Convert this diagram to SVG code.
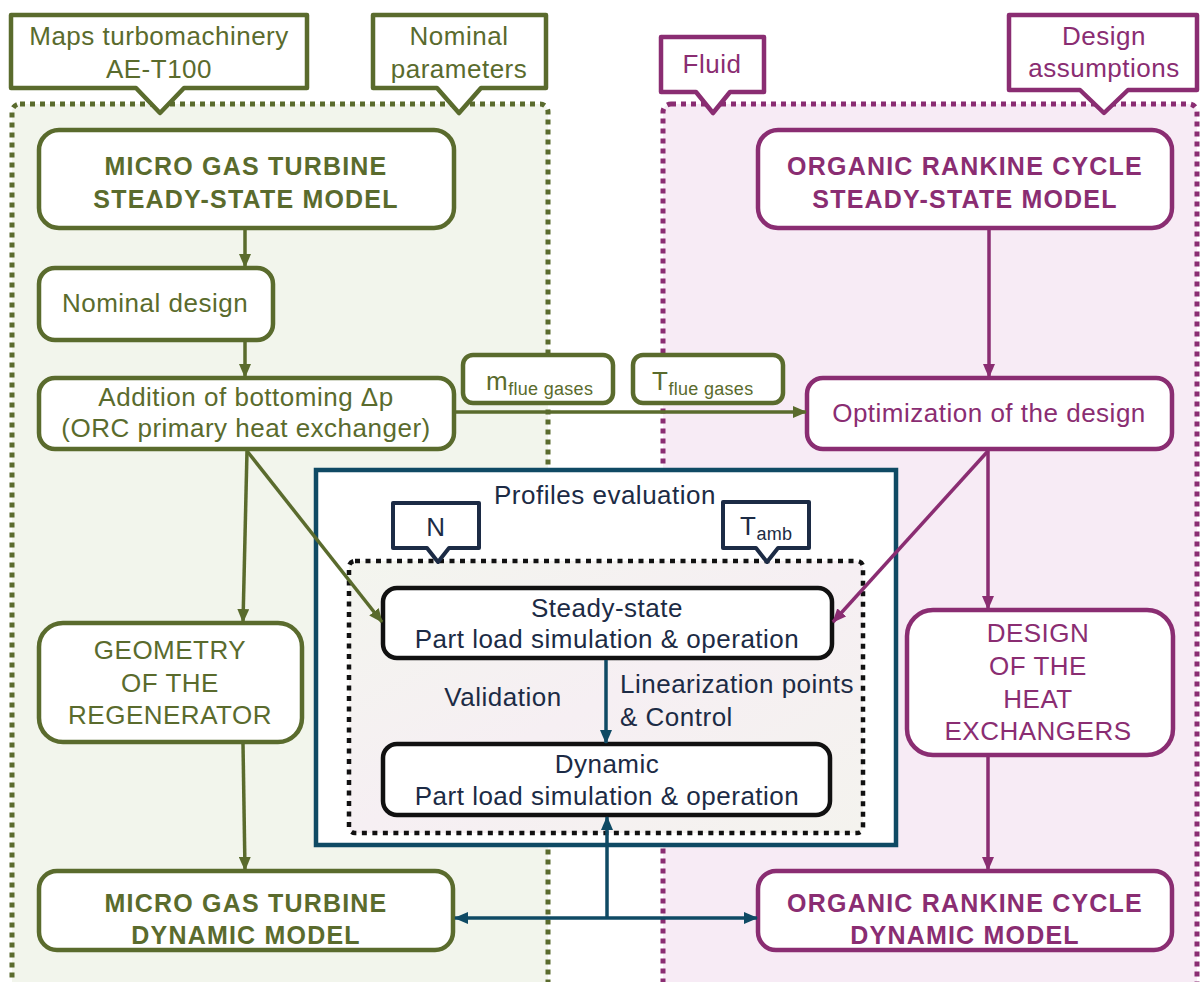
<svg xmlns="http://www.w3.org/2000/svg" width="1202" height="982" viewBox="0 0 1202 982">
  <defs>
    <style>
      text { font-family: "Liberation Sans", Arial, sans-serif; }
      .g { fill: #5a6b2d; }
      .p { fill: #8a2d72; }
      .n { fill: #1c2b45; }
      .c { text-anchor: middle; }
      .r { font-size: 26px; letter-spacing: 0.5px; }
      .b { font-size: 25px; font-weight: bold; letter-spacing: 1.2px; }
      .sub { font-size: 18px; letter-spacing: 0.3px; }
      .boxg { fill: #ffffff; stroke: #5a6b2d; stroke-width: 4.5; }
      .boxp { fill: #ffffff; stroke: #8a2d72; stroke-width: 4.5; }
      .boxk { fill: #ffffff; stroke: #111111; stroke-width: 4.5; }
      .callg { fill: #ffffff; stroke: #5a6b2d; stroke-width: 4.5; stroke-linejoin: round; }
      .callp { fill: #ffffff; stroke: #8a2d72; stroke-width: 4.5; stroke-linejoin: round; }
      .calln { fill: #ffffff; stroke: #1c2b45; stroke-width: 4; stroke-linejoin: round; }
      .lg { stroke: #5a6b2d; stroke-width: 3.5; fill: none; }
      .lp { stroke: #8a2d72; stroke-width: 3.5; fill: none; }
      .lb { stroke: #0f4a64; stroke-width: 3.5; fill: none; }
    </style>
    <linearGradient id="innerFill" x1="0" y1="0" x2="1" y2="1">
      <stop offset="0" stop-color="#f3f5ee"/>
      <stop offset="0.5" stop-color="#f6eff3"/>
      <stop offset="1" stop-color="#f4f3ee"/>
    </linearGradient>
    <marker id="ag" viewBox="0 0 14 12" refX="13" refY="6" markerWidth="14" markerHeight="12" markerUnits="userSpaceOnUse" orient="auto">
      <path d="M0,0 L14,6 L0,12 z" fill="#5a6b2d"/>
    </marker>
    <marker id="ap" viewBox="0 0 14 12" refX="13" refY="6" markerWidth="14" markerHeight="12" markerUnits="userSpaceOnUse" orient="auto">
      <path d="M0,0 L14,6 L0,12 z" fill="#8a2d72"/>
    </marker>
    <marker id="ab" viewBox="0 0 14 12" refX="13" refY="6" markerWidth="14" markerHeight="12" markerUnits="userSpaceOnUse" orient="auto-start-reverse">
      <path d="M0,0 L14,6 L0,12 z" fill="#0f4a64"/>
    </marker>
  </defs>

  <rect width="1202" height="982" fill="#ffffff"/>

  <!-- Micro gas turbine area -->
  <g id="mgt-area">
    <rect x="12" y="104" width="536" height="900" rx="8" fill="#f2f5ec" stroke="#5a6b2d" stroke-width="5" stroke-dasharray="5 5"/>
  </g>
  <!-- Organic Rankine cycle area -->
  <g id="orc-area">
    <rect x="663" y="104" width="534" height="900" rx="8" fill="#f7ebf5" stroke="#8a2d72" stroke-width="5" stroke-dasharray="5 5"/>
  </g>

  <!-- input callouts -->
  <g id="in-maps">
    <path class="callg" d="M11,15 H307 V88 H184 L160,113 L136,88 H11 Z"/>
    <text class="g c r" x="159" y="45">Maps turbomachinery</text>
    <text class="g c r" x="159" y="78">AE-T100</text>
  </g>
  <g id="in-nominal">
    <path class="callg" d="M373,15 H546 V88 H481 L459,113 L437,88 H373 Z"/>
    <text class="g c r" x="459" y="45">Nominal</text>
    <text class="g c r" x="459" y="78">parameters</text>
  </g>
  <g id="in-fluid">
    <path class="callp" d="M661,37 H764 V92 H730 L713,113 L696,92 H661 Z"/>
    <text class="p c r" x="712" y="73">Fluid</text>
  </g>
  <g id="in-design">
    <path class="callp" d="M1009,15 H1197 V90 H1128 L1104,113 L1080,90 H1009 Z"/>
    <text class="p c r" x="1104" y="45">Design</text>
    <text class="p c r" x="1104" y="77">assumptions</text>
  </g>

  <!-- micro gas turbine chain -->
  <g id="mgt-steady">
    <rect class="boxg" x="39" y="130" width="415" height="98" rx="20"/>
    <text class="g c b" x="246" y="175">MICRO GAS TURBINE</text>
    <text class="g c b" x="246" y="208">STEADY-STATE MODEL</text>
  </g>
  <g id="nominal-design">
    <rect class="boxg" x="39" y="268" width="234" height="72" rx="16"/>
    <text class="g c r" x="155" y="312">Nominal design</text>
  </g>
  <g id="bottoming-dp">
    <rect class="boxg" x="39" y="378" width="415" height="71" rx="16"/>
    <text class="g c r" x="246" y="406">Addition of bottoming Δp</text>
    <text class="g c r" x="246" y="437">(ORC primary heat exchanger)</text>
  </g>
  <g id="regenerator">
    <rect class="boxg" x="39" y="623" width="263" height="119" rx="24"/>
    <text class="g c r" x="170" y="659">GEOMETRY</text>
    <text class="g c r" x="170" y="692">OF THE</text>
    <text class="g c r" x="170" y="724">REGENERATOR</text>
  </g>
  <g id="mgt-dynamic">
    <rect class="boxg" x="39" y="871" width="414" height="79" rx="18"/>
    <text class="g c b" x="246" y="912">MICRO GAS TURBINE</text>
    <text class="g c b" x="246" y="944">DYNAMIC MODEL</text>
  </g>

  <!-- organic Rankine cycle chain -->
  <g id="orc-steady">
    <rect class="boxp" x="758" y="130" width="414" height="98" rx="20"/>
    <text class="p c b" x="965" y="175">ORGANIC RANKINE CYCLE</text>
    <text class="p c b" x="965" y="208">STEADY-STATE MODEL</text>
  </g>
  <g id="optimization">
    <rect class="boxp" x="807" y="378" width="365" height="71" rx="16"/>
    <text class="p c r" x="989" y="422">Optimization of the design</text>
  </g>
  <g id="heat-exchangers">
    <rect class="boxp" x="907" y="610" width="266" height="145" rx="26"/>
    <text class="p c r" x="1038" y="642">DESIGN</text>
    <text class="p c r" x="1038" y="675">OF THE</text>
    <text class="p c r" x="1038" y="708">HEAT</text>
    <text class="p c r" x="1038" y="740">EXCHANGERS</text>
  </g>
  <g id="orc-dynamic">
    <rect class="boxp" x="758" y="871" width="414" height="79" rx="18"/>
    <text class="p c b" x="965" y="912">ORGANIC RANKINE CYCLE</text>
    <text class="p c b" x="965" y="944">DYNAMIC MODEL</text>
  </g>

  <!-- flue gas labels -->
  <g id="m-flue">
    <rect class="boxg" x="463" y="355" width="150" height="48" rx="10"/>
    <text class="g r" x="486" y="390">m<tspan class="sub" dy="5">flue gases</tspan></text>
  </g>
  <g id="t-flue">
    <rect class="boxg" x="633" y="355" width="150" height="48" rx="10"/>
    <text class="g r" x="652" y="390">T<tspan class="sub" dy="5">flue  gases</tspan></text>
  </g>

  <!-- profiles evaluation -->
  <g id="profiles">
    <rect x="316" y="470" width="580" height="375" fill="#ffffff" stroke="#0f4a64" stroke-width="4.5"/>
    <text class="n c r" x="605" y="504">Profiles evaluation</text>
    <rect x="349" y="561" width="514" height="272" rx="6" fill="url(#innerFill)" stroke="#111111" stroke-width="4.5" stroke-dasharray="5 5.5"/>
  </g>
  <g id="in-n">
    <path class="calln" d="M393,503 H479 V548 H449 L438,562 L427,548 H393 Z"/>
    <text class="n c r" x="436" y="536">N</text>
  </g>
  <g id="in-tamb">
    <path class="calln" d="M723,502 H809 V548 H778 L767,562 L756,548 H723 Z"/>
    <text class="n r" x="740" y="535">T<tspan class="sub" dy="5">amb</tspan></text>
  </g>
  <g id="steady-part-load">
    <rect class="boxk" x="383" y="588" width="449" height="70" rx="14"/>
    <text class="n c r" x="607" y="617">Steady-state</text>
    <text class="n c r" x="607" y="648">Part load simulation &amp; operation</text>
  </g>
  <g id="dynamic-part-load">
    <rect class="boxk" x="383" y="744" width="447" height="71" rx="14"/>
    <text class="n c r" x="607" y="773">Dynamic</text>
    <text class="n c r" x="607" y="805">Part load simulation &amp; operation</text>
  </g>
  <g id="edge-labels">
    <text class="n c r" x="503" y="706">Validation</text>
    <text class="n r" x="620" y="693">Linearization points</text>
    <text class="n r" x="620" y="726">&amp; Control</text>
  </g>

  <!-- connectors -->
  <g id="connectors">
    <line class="lg" x1="245" y1="230" x2="245" y2="267" marker-end="url(#ag)"/>
    <line class="lg" x1="245" y1="342" x2="245" y2="377" marker-end="url(#ag)"/>
    <line class="lg" x1="247" y1="451" x2="243" y2="622" marker-end="url(#ag)"/>
    <line class="lg" x1="247" y1="451" x2="382" y2="622" marker-end="url(#ag)"/>
    <line class="lg" x1="456" y1="412" x2="806" y2="412" marker-end="url(#ag)"/>
    <line class="lg" x1="243" y1="744" x2="245" y2="870" marker-end="url(#ag)"/>

    <line class="lp" x1="989" y1="230" x2="989" y2="377" marker-end="url(#ap)"/>
    <line class="lp" x1="988" y1="451" x2="988" y2="609" marker-end="url(#ap)"/>
    <line class="lp" x1="988" y1="451" x2="833" y2="622" marker-end="url(#ap)"/>
    <line class="lp" x1="988" y1="757" x2="988" y2="870" marker-end="url(#ap)"/>

    <line class="lb" x1="606" y1="660" x2="606" y2="743" marker-end="url(#ab)"/>
    <line class="lb" x1="607" y1="918" x2="607" y2="817" marker-end="url(#ab)"/>
    <line class="lb" x1="455" y1="918" x2="757" y2="918" marker-start="url(#ab)" marker-end="url(#ab)"/>
  </g>
</svg>
